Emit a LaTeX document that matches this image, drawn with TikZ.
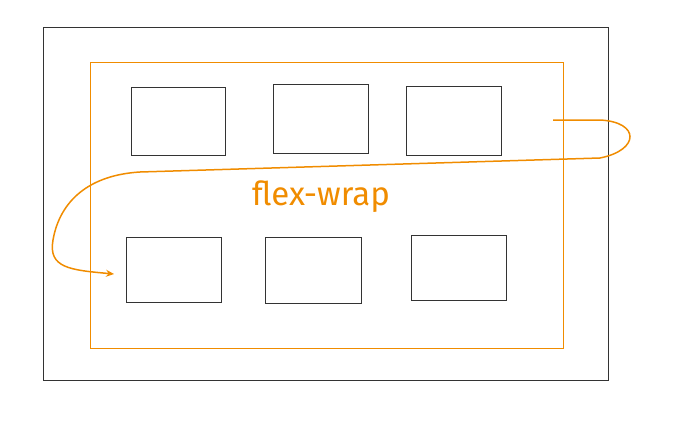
\documentclass[tikz,border=0pt]{standalone}
\usepackage{fontspec}
\setmainfont{Fira Sans}
\usetikzlibrary{arrows.meta}
\definecolor{orng}{HTML}{F08C00}
\begin{document}
\begin{tikzpicture}[x=1pt,y=-1pt,
  box/.style={draw=black!80,line width=1pt},
  obox/.style={draw=orng,line width=1pt}]
\useasboundingbox (0,0) rectangle (680,421);
\node[box,minimum width=565pt,minimum height=353pt,anchor=north west] (outer) at (43,27) {};
\node[obox,minimum width=473pt,minimum height=286pt,anchor=north west] (inner) at (90,62) {};
\node[box,minimum width=94pt,minimum height=68pt,anchor=north west] (b1) at (131,87) {};
\node[box,minimum width=95pt,minimum height=69pt,anchor=north west] (b2) at (273,84) {};
\node[box,minimum width=95pt,minimum height=69pt,anchor=north west] (b3) at (406,86) {};
\node[box,minimum width=95pt,minimum height=65pt,anchor=north west] (b4) at (126,237) {};
\node[box,minimum width=96pt,minimum height=66pt,anchor=north west] (b5) at (265,237) {};
\node[box,minimum width=95pt,minimum height=65pt,anchor=north west] (b6) at (411,235) {};
\node[text=orng,font=\fontsize{33}{36}\selectfont] (lbl) at (321,197) {flex-wrap};
\coordinate (s) at (553,120);
\draw[orng,line width=1.5pt,-{Stealth[length=8pt,width=7pt]}]
  (s) -- (600,120) .. controls (640,122) and (640,150) .. (600,158)
  -- (140,172) .. controls (90,175) and (60,200) .. (53,240)
  .. controls (48,268) and (70,270) .. ([xshift=-12pt]b4.west |- 0,274);
\end{tikzpicture}
\end{document}
